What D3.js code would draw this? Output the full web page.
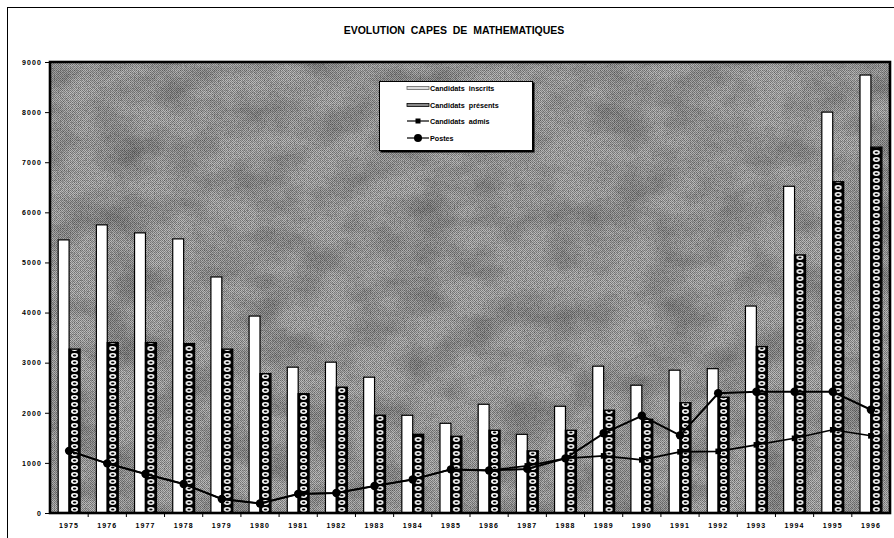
<!DOCTYPE html>
<html>
<head>
<meta charset="utf-8">
<script src="https://cdn.jsdelivr.net/npm/d3@7"></script>
<style>
  html, body { margin: 0; padding: 0; background: #fff; }
  svg { display: block; }
  text { font-family: "Liberation Sans", Arial, sans-serif; fill: #000; }
</style>
</head>
<body>
<svg id="chart" width="894" height="538"></svg>
<script>
// CAPES de mathématiques, 1975–1996
const years = ["1975","1976","1977","1978","1979","1980","1981","1982","1983","1984","1985",
               "1986","1987","1988","1989","1990","1991","1992","1993","1994","1995","1996"];
const inscrits = [5450,5750,5590,5470,4710,3930,2910,3010,2710,1950,1790,
                  2170,1570,2130,2930,2550,2850,2880,4130,6520,8000,8740];
const presents = [3270,3400,3400,3380,3270,2780,2380,2510,1950,1570,1530,
                  1650,1240,1650,2050,1870,2200,2310,3320,5150,6610,7300];
const admis    = [1240,990,780,580,280,190,380,400,540,670,870,
                  850,940,1090,1140,1060,1220,1230,1360,1490,1660,1540];
const postes   = [1240,990,780,580,280,190,380,400,540,670,870,
                  850,880,1090,1590,1940,1550,2390,2420,2420,2420,2060];
const yTicks = [0,1000,2000,3000,4000,5000,6000,7000,8000,9000];
const legendLabels = ["Candidats  inscrits","Candidats  présents","Candidats  admis","Postes"];
const title = "EVOLUTION  CAPES  DE  MATHEMATIQUES";

const svg = d3.select("#chart");
const L = 50, R = 890, T = 62, B = 513;

const x = d3.scaleBand().domain(years).range([L, R]).padding(0);
const bw = x.bandwidth();
const pairW = bw * 2 / 3.5;               // gap width 150 %
const off = (bw - pairW) / 2;
const sub = d3.scaleBand().domain(["inscrits","presents"]).range([0, pairW]);
const barW = sub.bandwidth();
const y = d3.scaleLinear().domain([0, 9000]).range([B, T]);
const cx = d => x(d) + bw / 2;

const defs = svg.append("defs");

// fine dither of the plot background
const dither = defs.append("pattern").attr("id","dither")
  .attr("patternUnits","userSpaceOnUse").attr("width",2).attr("height",2);
dither.append("rect").attr("width",2).attr("height",2).attr("fill","#bcbcbc");
dither.append("rect").attr("width",1).attr("height",1).attr("fill","#7a7a7a");
dither.append("rect").attr("x",1).attr("y",1).attr("width",1).attr("height",1).attr("fill","#888");

// soft mottling
const mottle = defs.append("filter").attr("id","mottle")
  .attr("x",0).attr("y",0).attr("width",1).attr("height",1);
mottle.append("feTurbulence").attr("type","fractalNoise")
  .attr("baseFrequency","0.02 0.03").attr("numOctaves",4).attr("seed",11).attr("result","n");
mottle.append("feColorMatrix").attr("in","n").attr("type","matrix")
  .attr("values","0 0 0 0 0  0 0 0 0 0  0 0 0 0 0  -1.6 0 0 0 1.0");
// pixel grain
const grain = defs.append("filter").attr("id","grain")
  .attr("x",0).attr("y",0).attr("width",1).attr("height",1);
grain.append("feTurbulence").attr("type","fractalNoise")
  .attr("baseFrequency","0.7").attr("numOctaves",2).attr("seed",3).attr("result","g");
grain.append("feColorMatrix").attr("in","g").attr("type","matrix")
  .attr("values","0 0 0 0 0  0 0 0 0 0  0 0 0 0 0  -2.4 0 0 0 1.25");

// chain pattern of the "présents" bars, aligned on every band
const px0 = x(years[0]) + off + sub("presents");
const chain = defs.append("pattern").attr("id","chain")
  .attr("patternUnits","userSpaceOnUse")
  .attr("x", px0).attr("y", B).attr("width", bw).attr("height", 7);
chain.append("rect").attr("width", barW).attr("height", 7).attr("fill","#000");
chain.append("ellipse").attr("cx", barW/2).attr("cy",3.5)
  .attr("rx", barW/2 - 2).attr("ry",2.4).attr("fill","#fff");
chain.append("ellipse").attr("cx", barW/2).attr("cy",3.5)
  .attr("rx", 1.8).attr("ry",1.0).attr("fill","#000");

// outer frame
svg.append("rect").attr("x",7.5).attr("y",7.5).attr("width",900).attr("height",540)
  .attr("fill","none").attr("stroke","#000").attr("stroke-width",1);

// title
svg.append("text").attr("x",454).attr("y",34).attr("text-anchor","middle")
  .attr("font-size",10.5).attr("font-weight","bold").style("white-space","pre")
  .text(title);

// plot background
const plot = svg.append("g");
plot.append("rect").attr("x",L).attr("y",T).attr("width",R-L).attr("height",B-T)
  .attr("fill","url(#dither)");
plot.append("rect").attr("x",L).attr("y",T).attr("width",R-L).attr("height",B-T)
  .attr("fill","#000").attr("filter","url(#mottle)").attr("opacity",0.3);
plot.append("rect").attr("x",L).attr("y",T).attr("width",R-L).attr("height",B-T)
  .attr("fill","#000").attr("filter","url(#grain)").attr("opacity",0.3);

// bars
const groups = svg.append("g").selectAll("g").data(years).join("g");
groups.append("rect")
  .attr("x", d => x(d) + off + sub("inscrits"))
  .attr("y", (d,i) => y(inscrits[i]))
  .attr("width", barW)
  .attr("height", (d,i) => B - y(inscrits[i]))
  .attr("fill","#fff").attr("stroke","#000").attr("stroke-width",1.2);
groups.append("rect")
  .attr("x", d => x(d) + off + sub("presents"))
  .attr("y", (d,i) => y(presents[i]))
  .attr("width", barW)
  .attr("height", (d,i) => B - y(presents[i]))
  .attr("fill","url(#chain)").attr("stroke","#000").attr("stroke-width",1.4);

// lines
const line = d3.line().x((v,i) => cx(years[i])).y(v => y(v));
svg.append("path").datum(admis).attr("d", line)
  .attr("fill","none").attr("stroke","#000").attr("stroke-width",1.6);
svg.append("path").datum(postes).attr("d", line)
  .attr("fill","none").attr("stroke","#000").attr("stroke-width",2);
svg.append("g").selectAll("rect").data(admis).join("rect")
  .attr("x",(v,i) => cx(years[i]) - 2.8).attr("y", v => y(v) - 2.8)
  .attr("width",5.6).attr("height",5.6).attr("fill","#000");
svg.append("g").selectAll("circle").data(postes).join("circle")
  .attr("cx",(v,i) => cx(years[i])).attr("cy", v => y(v)).attr("r",4.2).attr("fill","#000");

// plot border
svg.append("rect").attr("x",L).attr("y",T).attr("width",R-L).attr("height",B-T)
  .attr("fill","none").attr("stroke","#000").attr("stroke-width",2.6);

// y axis
const yAxis = svg.append("g").attr("transform",`translate(${L-1},0)`)
  .call(d3.axisLeft(y).tickValues(yTicks).tickSize(4).tickPadding(3).tickFormat(d3.format("d")));
yAxis.select(".domain").remove();
yAxis.selectAll("line").attr("stroke","#000").attr("stroke-width",1);
yAxis.selectAll("text").attr("font-size",7).attr("font-weight","bold")
  .attr("letter-spacing",1.1).attr("font-family","'Liberation Sans', Arial, sans-serif");

// x axis
const xAxis = svg.append("g").attr("transform",`translate(0,${B+1})`)
  .call(d3.axisBottom(x).tickSize(0).tickPadding(9));
xAxis.select(".domain").remove();
xAxis.selectAll("text").attr("font-size",7).attr("font-weight","bold")
  .attr("letter-spacing",1.1).attr("font-family","'Liberation Sans', Arial, sans-serif");
svg.append("g").selectAll("line").data(years.slice(1)).join("line")
  .attr("x1", d => x(d)).attr("x2", d => x(d))
  .attr("y1", B + 1).attr("y2", B + 4).attr("stroke","#000").attr("stroke-width",1);

// legend
const lg = svg.append("g").attr("transform","translate(379,81)");
lg.append("rect").attr("x",1.5).attr("y",1.5).attr("width",154).attr("height",70).attr("fill","#000");
lg.append("rect").attr("x",0.5).attr("y",0.5).attr("width",153).attr("height",69)
  .attr("fill","#fff").attr("stroke","#000").attr("stroke-width",1);
const rows = [7, 24, 40, 57];
const sx0 = 28, sx1 = 50;
lg.append("rect").attr("x",sx0).attr("y",rows[0]-1.5).attr("width",sx1-sx0).attr("height",3)
  .attr("fill","#ddd").attr("stroke","#666").attr("stroke-width",0.8);
lg.append("rect").attr("x",sx0).attr("y",rows[1]-1.5).attr("width",sx1-sx0).attr("height",3)
  .attr("fill","#888").attr("stroke","#000").attr("stroke-width",0.8);
lg.append("line").attr("x1",sx0).attr("x2",sx1).attr("y1",rows[2]).attr("y2",rows[2])
  .attr("stroke","#000").attr("stroke-width",1.2);
lg.append("rect").attr("x",(sx0+sx1)/2-2.5).attr("y",rows[2]-2.5).attr("width",5).attr("height",5).attr("fill","#000");
lg.append("line").attr("x1",sx0).attr("x2",sx1).attr("y1",rows[3]).attr("y2",rows[3])
  .attr("stroke","#000").attr("stroke-width",1.2);
lg.append("circle").attr("cx",(sx0+sx1)/2).attr("cy",rows[3]).attr("r",4).attr("fill","#000");
lg.selectAll("text.lab").data(legendLabels).join("text").attr("class","lab")
  .attr("x", sx1 + 1).attr("y",(d,i) => rows[i] + 2.6)
  .attr("font-size",7.2).attr("font-weight","bold").style("white-space","pre")
  .text(d => d);
</script>
</body>
</html>
